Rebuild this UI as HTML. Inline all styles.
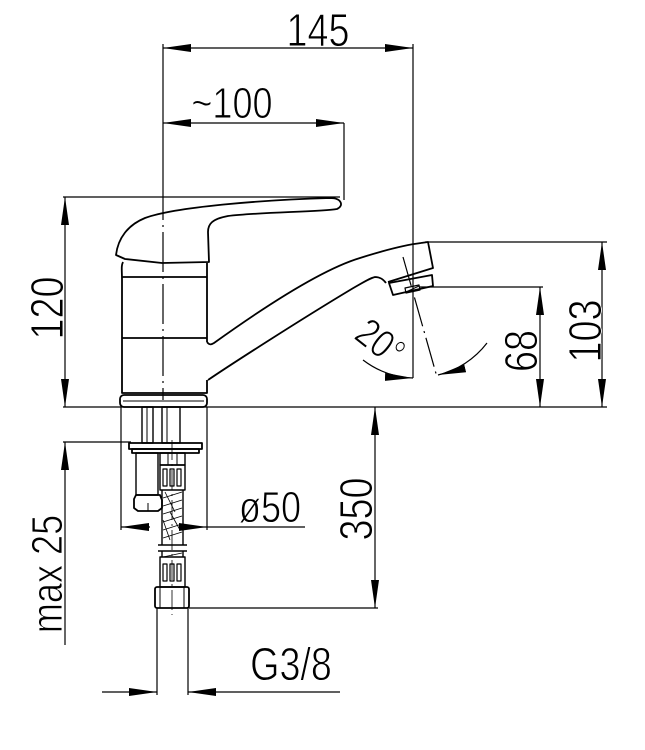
<!DOCTYPE html>
<html><head><meta charset="utf-8"><style>
html,body{margin:0;padding:0;background:#fff;}
svg{display:block}
text{font-family:"Liberation Sans",sans-serif;fill:#000;stroke:#fff;stroke-width:0.9;}
</style></head><body>
<svg width="645" height="750" viewBox="0 0 645 750" xmlns="http://www.w3.org/2000/svg">
<defs>
<marker id="a" viewBox="0 0 28 8" refX="28" refY="4" markerWidth="28" markerHeight="8" markerUnits="userSpaceOnUse" orient="auto-start-reverse"><path d="M0,0 L28,4 L0,8 Z" fill="#000"/></marker>
</defs>
<g fill="none" stroke="#000" stroke-width="1.2">
<line x1="163" y1="48" x2="413" y2="48" marker-start="url(#a)" marker-end="url(#a)"/>
<line x1="163" y1="44" x2="163" y2="180"/>
<line x1="413" y1="44" x2="413" y2="378"/>
<line x1="163" y1="123" x2="344" y2="123" marker-start="url(#a)" marker-end="url(#a)"/>
<line x1="344" y1="123" x2="344" y2="200"/>
<line x1="163" y1="180" x2="163" y2="400" stroke-dasharray="40,5,2,5"/>
<line x1="63" y1="197" x2="340" y2="197"/>
<line x1="65" y1="197" x2="65" y2="407" marker-start="url(#a)" marker-end="url(#a)"/>
<line x1="63" y1="407" x2="607" y2="407"/>
<line x1="425" y1="242" x2="607" y2="242"/>
<line x1="602" y1="242" x2="602" y2="407" marker-start="url(#a)" marker-end="url(#a)"/>
<line x1="420" y1="287" x2="543" y2="287"/>
<line x1="540" y1="287" x2="540" y2="407" marker-start="url(#a)" marker-end="url(#a)"/>
<line x1="403" y1="257" x2="437" y2="377" stroke-dasharray="30,5,2,5"/>
<path d="M363,360 A88,88 0 0 0 413,378" marker-end="url(#a)"/>
<path d="M487,343 A88,88 0 0 1 438,375" marker-end="url(#a)"/>
<line x1="375" y1="407" x2="375" y2="608" marker-start="url(#a)" marker-end="url(#a)"/>
<line x1="189" y1="608" x2="378" y2="608"/>
<line x1="121" y1="407" x2="121" y2="530"/>
<line x1="207" y1="407" x2="207" y2="530"/>
<line x1="150" y1="527" x2="121" y2="527" marker-end="url(#a)"/>
<line x1="180" y1="527" x2="207" y2="527" marker-end="url(#a)"/>
<line x1="207" y1="527" x2="305" y2="527"/>
<line x1="63" y1="442" x2="131" y2="442"/>
<line x1="65" y1="645" x2="65" y2="442" marker-end="url(#a)"/>
<line x1="157" y1="608" x2="157" y2="695"/>
<line x1="188" y1="608" x2="188" y2="695"/>
<line x1="102" y1="692" x2="157" y2="692" marker-end="url(#a)"/>
<line x1="340" y1="692" x2="188" y2="692" marker-end="url(#a)"/>
</g>
<g fill="none" stroke="#000" stroke-width="1.8" stroke-linejoin="round">
<path d="M116,255 C118,238 128,225 145,218 C175,207 260,200 330,198 C342,198 344,206 337,209 C320,212 260,212 228,216 C212,219 208,224 208,232 L209,262 L162,263 L125,259 Z"/>
<path d="M123,262 C121,266 122,270 122,280 L122,393 L207,393 L207,380"/>
<path d="M207,263 L207,342"/>
<line x1="122" y1="277" x2="207" y2="277"/>
<line x1="122" y1="338" x2="207" y2="338"/>
<path d="M207,342 C209,345 211,345 214,343 C260,310 320,270 360,258 C385,250 405,245 421,243"/>
<path d="M208,380 C230,365 300,320 350,290 C362,283 370,278 375,277 C380,277 383,279 386,283"/>
<path d="M421,243 L428,242 L433,268 L388,282"/>
<path d="M389,283 L432,275 L433,286 L393,295 Z"/>
<path d="M405,288 L419,285 L420,290 L406,293 Z" stroke-width="1.2"/>
<line x1="406" y1="292" x2="419" y2="286" stroke-width="1"/>
<rect x="120" y="395" width="87" height="12" rx="4"/>
<line x1="123" y1="401" x2="204" y2="401" stroke-width="1"/>
<rect x="142" y="407" width="11" height="36" stroke-width="1.4"/>
<line x1="147" y1="407" x2="147" y2="443" stroke-width="1"/>
<rect x="162" y="407" width="18" height="36" stroke-width="1.4"/>
<line x1="167" y1="407" x2="167" y2="443" stroke-width="1"/>
<rect x="129" y="443" width="73" height="6"/>
<rect x="132" y="449" width="67" height="4"/>
<rect x="136" y="453" width="22" height="42" stroke-width="1.4"/>
<path d="M136,495 L160,495 L162,500 L162,508 L158,511 L138,511 L134,508 L134,499 Z"/>
<line x1="148" y1="503" x2="148" y2="511" stroke-width="1"/>
<rect x="160" y="453" width="25" height="12" stroke-width="1.4"/>
<line x1="168" y1="453" x2="168" y2="465" stroke-width="1"/>
<line x1="177" y1="453" x2="177" y2="465" stroke-width="1"/>
<rect x="160" y="465" width="25" height="25" stroke-width="1.4"/>
<rect x="163" y="469" width="4" height="17" stroke-width="1.2"/>
<rect x="170" y="469" width="4" height="17" stroke-width="1.2"/>
<rect x="177" y="469" width="4" height="17" stroke-width="1.2"/>
<line x1="162" y1="490" x2="162" y2="545" stroke-width="1.4"/>
<line x1="183" y1="490" x2="183" y2="545" stroke-width="1.4"/>
<path d="M163,498 L182,492 M163,506 L182,500 M163,514 L182,508 M163,522 L182,516 M163,530 L182,524 M163,538 L182,532 M165,492 L175,512 M170,512 L180,530 M163,520 L170,540" stroke-width="0.8"/>
<line x1="158" y1="545" x2="187" y2="545" stroke-width="1.4"/>
<line x1="158" y1="551" x2="187" y2="551" stroke-width="1.4"/>
<line x1="162" y1="551" x2="162" y2="557" stroke-width="1.4"/>
<line x1="183" y1="551" x2="183" y2="557" stroke-width="1.4"/>
<path d="M163,557 L182,553" stroke-width="0.8"/>
<rect x="160" y="557" width="25" height="30" stroke-width="1.4"/>
<rect x="163" y="564" width="4" height="17" stroke-width="1.2"/>
<rect x="170" y="564" width="4" height="17" stroke-width="1.2"/>
<rect x="177" y="564" width="4" height="17" stroke-width="1.2"/>
<rect x="155" y="587" width="34" height="21" rx="2"/>
<line x1="160" y1="587" x2="160" y2="608" stroke-width="1"/>
<line x1="184" y1="587" x2="184" y2="608" stroke-width="1"/>
</g>
<line x1="172" y1="440" x2="172" y2="615" stroke="#000" stroke-width="0.8" stroke-dasharray="20,4,2,4"/>
<g font-size="46">
<text x="318" y="46" text-anchor="middle" transform="translate(318 0) scale(0.82 1) translate(-318 0)">145</text>
<text x="232" y="118" text-anchor="middle" font-size="44" transform="translate(232 0) scale(0.82 1) translate(-232 0)">~100</text>
<text text-anchor="middle" transform="translate(63 308) rotate(-90) scale(0.82 1)">120</text>
<text text-anchor="middle" transform="translate(601 331) rotate(-90) scale(0.82 1)">103</text>
<text text-anchor="middle" transform="translate(537 351) rotate(-90) scale(0.82 1)">68</text>
<text text-anchor="middle" transform="translate(372 509) rotate(-90) scale(0.82 1)">350</text>
<text text-anchor="middle" font-size="44" transform="translate(62 574) rotate(-90) scale(0.82 1)">max 25</text>
<text x="270" y="522" text-anchor="middle" font-size="44" transform="translate(270 0) scale(0.82 1) translate(-270 0)">ø50</text>
<text x="291" y="680" text-anchor="middle" font-size="46" transform="translate(291 0) scale(0.82 1) translate(-291 0)">G3/8</text>
<text text-anchor="middle" font-size="40" transform="translate(372 353) rotate(38) scale(0.82 1)">20°</text>
</g>
</svg>
</body></html>
